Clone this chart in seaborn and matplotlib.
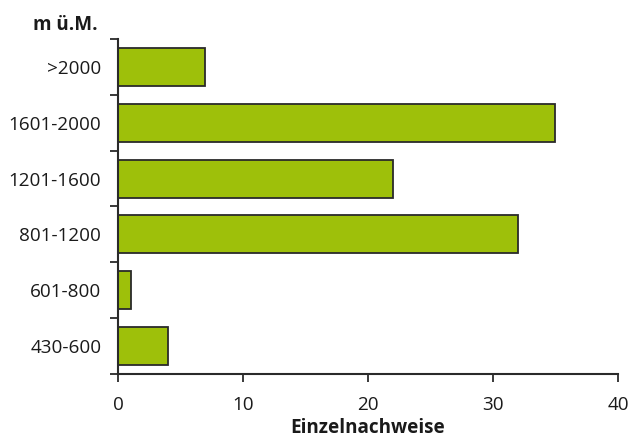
import matplotlib
matplotlib.use("Agg")
import matplotlib.pyplot as plt
import seaborn as sns
import pandas as pd
import numpy as np

# Höhenstufen (m ü.M.) und Anzahl Einzelnachweise
stufen = [">2000", "1601-2000", "1201-1600", "801-1200", "601-800", "430-600"]
nachweise = [7, 35, 22, 32, 1, 4]
x_ticks = [0, 10, 20, 30, 40]

df = pd.DataFrame({"stufe": stufen, "n": nachweise})

sns.set_theme(style="white")
plt.rcParams["font.family"] = ["Open Sans", "DejaVu Sans"]

fs = 13.6
fig = plt.figure(figsize=(6.29, 4.43), dpi=100)
ax = fig.add_axes([0.1876, 0.1558, 0.7949, 0.7562])

sns.barplot(data=df, x="n", y="stufe", order=stufen, orient="h",
            color="#9EC00A", saturation=1, width=0.68,
            edgecolor="#2a2a2a", linewidth=1.3, ax=ax)

ax.set_xlim(0, 40)
ax.set_ylim(len(stufen) - 0.5, -0.5)
ax.set_xticks(x_ticks)
ax.set_xticklabels([str(t) for t in x_ticks], fontsize=fs, color="#1a1a1a")
ax.set_yticklabels(stufen, fontsize=fs, color="#1a1a1a")

# Kategorie-Trennstriche auf der y-Achse
ax.set_yticks(np.arange(-0.5, len(stufen), 1.0), minor=True)
ax.tick_params(axis="y", which="major", length=0, pad=12)
ax.tick_params(axis="y", which="minor", length=6, width=1.3, color="#2a2a2a", left=True)
ax.tick_params(axis="x", which="major", length=6, width=1.3, color="#2a2a2a",
               bottom=True, pad=10)

for side in ["top", "right"]:
    ax.spines[side].set_visible(False)
for side in ["left", "bottom"]:
    ax.spines[side].set_color("#2a2a2a")
    ax.spines[side].set_linewidth(1.5)

ax.set_ylabel("")
ax.set_xlabel("Einzelnachweise", fontsize=fs, fontweight="bold",
              color="#1a1a1a", labelpad=3)

fig.text(0.156, 0.944, "m ü.M.", fontsize=fs, fontweight="bold",
         color="#1a1a1a", ha="right", va="center")

fig.savefig("out.png", dpi=100, facecolor="white")
